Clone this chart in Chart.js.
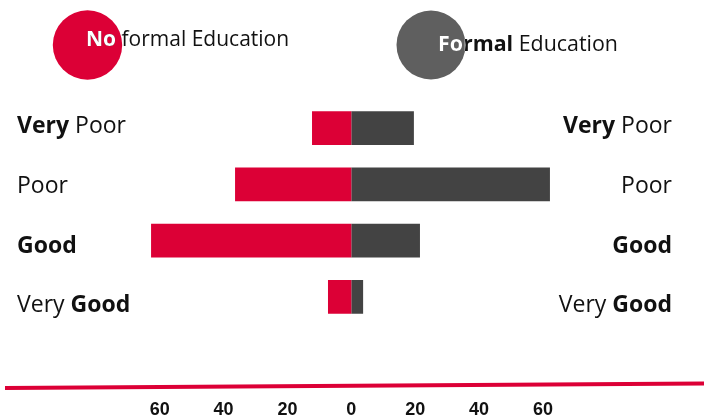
<!DOCTYPE html>
<html lang="en">
<head>
    <meta charset="UTF-8">
    <meta name="viewport" content="width=device-width, initial-scale=1.0">
    <script src="https://cdn.jsdelivr.net/npm/chart.js@4.4.1/dist/chart.umd.min.js"></script>
    <title>Education and rating</title>
    <style>
        body { margin: 0; background: #fff; }
        canvas { display: block; }
    </style>
</head>
<body>
    <canvas id="chart" width="704" height="419"></canvas>
    <script>
        // categories, with the bold pieces of each label
        const categories = ['Very Poor', 'Poor', 'Good', 'Very Good'];
        const categoryParts = [
            [['Very', true], [' Poor', false]],
            [['Poor', false]],
            [['Good', true]],
            [['Very ', false], ['Good', true]]
        ];

        // series
        const noFormal = [12.3, 36.4, 62.7, 7.3];
        const formal = [19.6, 62.2, 21.5, 3.7];

        const seriesNames = ['No formal Education', 'Formal Education'];
        const seriesParts = [
            [['No', true], [' formal Education', false]],
            [['Formal', true], [' Education', false]]
        ];

        const tickValues = [-60, -40, -20, 0, 20, 40, 60];
        const tickLabels = ['60', '40', '20', '0', '20', '40', '60'];

        const RED = '#dc0036';
        const DARK = '#434343';
        const FONT = "'Open Sans', sans-serif";

        function drawParts(ctx, parts, x, y, align, size, color) {
            let total = 0;
            parts.forEach(p => {
                ctx.font = (p[1] ? 'bold ' : '') + size + 'px ' + FONT;
                total += ctx.measureText(p[0]).width;
            });
            let cx = align === 'right' ? x - total : x;
            ctx.fillStyle = color;
            ctx.textAlign = 'left';
            ctx.textBaseline = 'alphabetic';
            parts.forEach(p => {
                ctx.font = (p[1] ? 'bold ' : '') + size + 'px ' + FONT;
                ctx.fillText(p[0], cx, y);
                cx += ctx.measureText(p[0]).width;
            });
        }

        const decorations = {
            id: 'decorations',
            afterDraw(chart) {
                const ctx = chart.ctx;
                const yScale = chart.scales.y;

                // row labels on both sides
                categoryParts.forEach((parts, i) => {
                    const y = yScale.getPixelForValue(i) + 5.3 + 3.4 * i;
                    drawParts(ctx, parts, 17, y, 'left', 23, '#111');
                    drawParts(ctx, parts, 672, y, 'right', 23, '#111');
                });

                // legend: circles with the text going white inside them
                const legend = [
                    { cx: 87.5, cy: 45, r: 34.7, color: RED, tx: 86, ty: 45.7, size: 21 },
                    { cx: 431, cy: 45, r: 34.5, color: '#5f5f5f', tx: 438, ty: 51, size: 21.4 }
                ];
                legend.forEach((l, i) => {
                    ctx.save();
                    ctx.beginPath();
                    ctx.arc(l.cx, l.cy, l.r, 0, Math.PI * 2);
                    ctx.fillStyle = l.color;
                    ctx.fill();
                    drawParts(ctx, seriesParts[i], l.tx, l.ty, 'left', l.size, '#111');
                    ctx.beginPath();
                    ctx.arc(l.cx, l.cy, l.r, 0, Math.PI * 2);
                    ctx.clip();
                    drawParts(ctx, seriesParts[i], l.tx, l.ty, 'left', l.size, '#fff');
                    ctx.restore();
                });

                // red baseline above the axis labels
                ctx.save();
                ctx.beginPath();
                ctx.moveTo(5, 388);
                ctx.lineTo(704, 383.5);
                ctx.lineWidth = 4;
                ctx.strokeStyle = RED;
                ctx.stroke();
                ctx.restore();
            }
        };

        new Chart(document.getElementById('chart'), {
            type: 'bar',
            data: {
                labels: categories,
                datasets: [{
                    label: seriesNames[0],
                    data: noFormal.map(v => -v),
                    backgroundColor: RED,
                    barPercentage: 0.6,
                    categoryPercentage: 1
                }, {
                    label: seriesNames[1],
                    data: formal,
                    backgroundColor: DARK,
                    barPercentage: 0.6,
                    categoryPercentage: 1
                }]
            },
            options: {
                indexAxis: 'y',
                responsive: false,
                animation: false,
                layout: { padding: { top: 100, left: 0, right: 1.4, bottom: 0 } },
                plugins: {
                    legend: { display: false },
                    tooltip: { enabled: false }
                },
                scales: {
                    x: {
                        stacked: true,
                        min: -110,
                        max: 110,
                        grid: { display: false, drawTicks: false },
                        border: { display: false },
                        afterBuildTicks: scale => {
                            scale.ticks = tickValues.map(v => ({ value: v }));
                        },
                        afterFit: scale => {
                            scale.height = 94;
                        },
                        ticks: {
                            padding: 74,
                            color: '#111',
                            font: { family: "'Liberation Sans', sans-serif", size: 18, weight: 'bold' },
                            maxRotation: 0,
                            callback: value => tickLabels[tickValues.indexOf(value)]
                        }
                    },
                    y: {
                        stacked: true,
                        display: false
                    }
                }
            },
            plugins: [decorations]
        });
    </script>
</body>
</html>
